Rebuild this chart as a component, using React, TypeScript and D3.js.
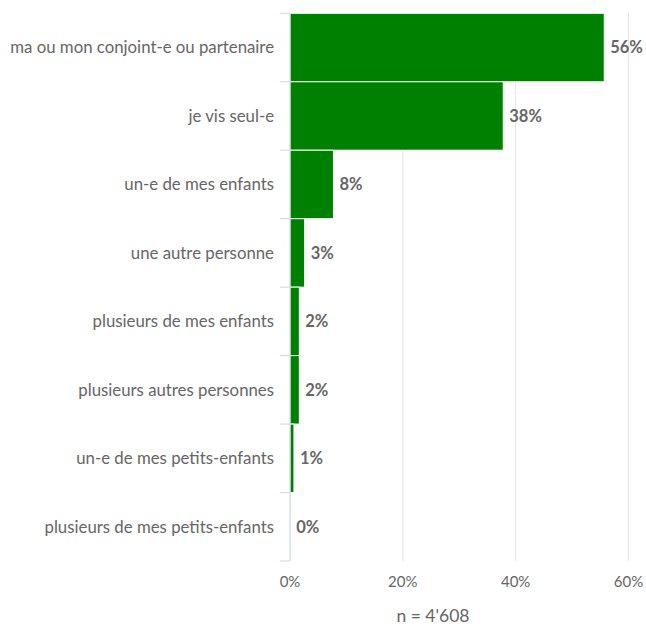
import React from "react";
import * as d3 from "d3";

const categories = [
  "ma ou mon conjoint-e ou partenaire",
  "je vis seul-e",
  "un-e de mes enfants",
  "une autre personne",
  "plusieurs de mes enfants",
  "plusieurs autres personnes",
  "un-e de mes petits-enfants",
  "plusieurs de mes petits-enfants",
];
const values = [55.7, 37.8, 7.7, 2.6, 1.65, 1.65, 0.7, 0.05];
const valueLabels = ["56%", "38%", "8%", "3%", "2%", "2%", "1%", "0%"];
const xTicks = [0, 20, 40, 60];
const caption = "n = 4'608";

const W = 646;
const H = 626;
const left = 290;
const top = 13.3;
const bottom = 561;
const font = "Lato, 'Open Sans', sans-serif";

export default function App() {
  const x = d3.scaleLinear().domain([0, 60]).range([left, 628.5]);
  const y = d3.scaleBand().domain(categories).range([top, bottom]).padding(0);
  const bw = y.bandwidth();
  const boundaries = d3.range(categories.length + 1).map((i) => top + i * bw);

  return (
    <svg width={W} height={H} style={{ position: "absolute", left: 0, top: 0 }} fontFamily={font}>
      <rect width={W} height={H} fill="#ffffff" />
      {xTicks.map((t) => (
        <line key={"g" + t} x1={x(t)} x2={x(t)} y1={top} y2={bottom} stroke="#e6e6e6" strokeWidth={1} />
      ))}
      {categories.map((c, i) => (
        <rect
          key={"b" + c}
          x={x(0)}
          y={y(c)!}
          width={Math.max(0, x(values[i]) - x(0))}
          height={bw}
          fill="#008000"
          stroke="#ffffff"
          strokeWidth={1}
        />
      ))}
      <line x1={left} x2={left} y1={top} y2={bottom} stroke="#ccd6eb" strokeWidth={1} />
      {boundaries.map((b, i) => (
        <line key={"t" + i} x1={left - 10} x2={left} y1={b} y2={b} stroke="#ccd6eb" strokeWidth={1} />
      ))}
      {categories.map((c) => (
        <text
          key={"l" + c}
          x={274}
          y={y(c)! + bw / 2}
          dy="0.35em"
          textAnchor="end"
          fontSize={16.8}
          fill="#666666"
        >
          {c}
        </text>
      ))}
      {categories.map((c, i) => (
        <text
          key={"v" + c}
          x={x(values[i]) + 6}
          y={y(c)! + bw / 2}
          dy="0.35em"
          fontSize={16.5}
          fontWeight="bold"
          fill="#666666"
        >
          {valueLabels[i]}
        </text>
      ))}
      {xTicks.map((t) => (
        <text key={"x" + t} x={x(t)} y={582} dy="0.35em" textAnchor="middle" fontSize={15} fill="#666666">
          {t + "%"}
        </text>
      ))}
      <text x={433} y={621.5} textAnchor="middle" fontSize={17.5} fill="#666666">
        {caption}
      </text>
    </svg>
  );
}
